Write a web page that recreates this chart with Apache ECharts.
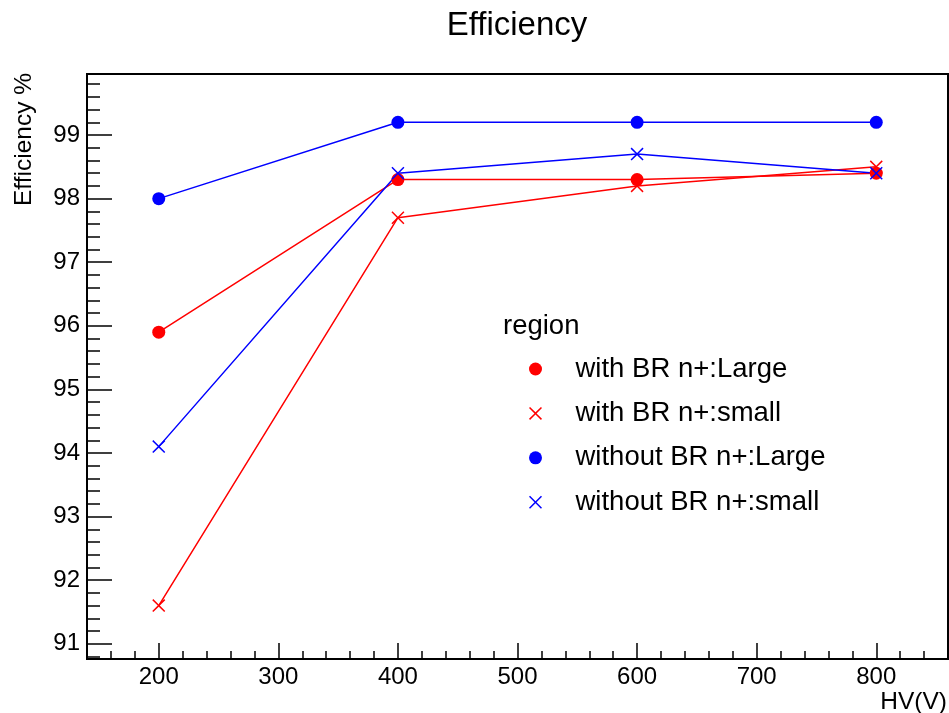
<!DOCTYPE html>
<html>
<head>
<meta charset="utf-8">
<title>Efficiency</title>
<script src="https://cdn.jsdelivr.net/npm/echarts@6.0.0/dist/echarts.min.js"></script>
<style>
  html, body { margin: 0; padding: 0; background: #fff; }
  #main { width: 949px; height: 713px; }
</style>
</head>
<body>
<div id="main"></div>
<script>
// HV points and efficiency (%) per region
const hv = [200, 400, 600, 800];
const withBrLarge = [95.9, 98.3, 98.3, 98.4];
const withBrSmall = [91.6, 97.7, 98.2, 98.5];
const withoutBrLarge = [98.0, 99.2, 99.2, 99.2];
const withoutBrSmall = [94.1, 98.4, 98.7, 98.4];

const xTicks = [200, 300, 400, 500, 600, 700, 800];
const yTicks = [91, 92, 93, 94, 95, 96, 97, 98, 99];

const FONT = '"Liberation Sans", Arial, Helvetica, sans-serif';
const RED = '#ff0000';
const BLUE = '#0000ff';
// thin X made as a filled shape, so it scales with symbolSize
const CROSS = 'path://M0,8 L8,0 L50,42 L92,0 L100,8 L58,50 L100,92 L92,100 L50,58 L8,100 L0,92 L42,50 Z';

// minor ticks: every 20 V on x, every 0.2 % on y
const xMinor = [];
for (let v = 160; v <= 840; v += 20) {
    if (v % 100 !== 0) xMinor.push(v);
}
const yMinor = [];
for (let i = 908; i <= 998; i += 2) {
    if (i % 10 !== 0) yMinor.push(i / 10);
}

const pairs = (ys) => hv.map((x, i) => [x, ys[i]]);

const makeSeries = (name, ys, color, symbol, size) => ({
    name: name,
    type: 'line',
    data: pairs(ys),
    symbol: symbol,
    symbolSize: size,
    showSymbol: true,
    lineStyle: { color: color, width: 1.5 },
    itemStyle: { color: color, borderWidth: 0 },
    emphasis: { disabled: true },
    z: 3
});

const xBase = { type: 'value', min: 140, max: 860, gridIndex: 0, position: 'bottom', splitLine: { show: false } };
const yBase = { type: 'value', min: 90.76, max: 99.96, gridIndex: 0, position: 'left', splitLine: { show: false } };

const chart = echarts.init(document.getElementById('main'), null, { renderer: 'canvas' });
chart.setOption({
    animation: false,
    backgroundColor: '#fff',
    textStyle: { fontFamily: FONT },
    title: {
        text: 'Efficiency',
        left: 517,
        top: 9,
        padding: 0,
        textAlign: 'center',
        textStyle: { fontFamily: FONT, fontSize: 33, fontWeight: 'normal', color: '#000' }
    },
    grid: {
        left: 87, right: 1, top: 74, bottom: 54,
        show: true, borderColor: '#000', borderWidth: 2, backgroundColor: 'transparent'
    },
    xAxis: [
        Object.assign({}, xBase, {
            axisLine: { show: true, lineStyle: { color: '#000', width: 2 } },
            axisTick: { show: true, inside: true, length: 16, customValues: xTicks, lineStyle: { color: '#000', width: 1.5 } },
            axisLabel: { show: true, customValues: xTicks, margin: 6, fontSize: 24, color: '#000', fontFamily: FONT }
        }),
        Object.assign({}, xBase, {
            axisLine: { show: false },
            axisTick: { show: true, inside: true, length: 8, customValues: xMinor, lineStyle: { color: '#000', width: 1.5 } },
            axisLabel: { show: false }
        })
    ],
    yAxis: [
        Object.assign({}, yBase, {
            axisLine: { show: true, lineStyle: { color: '#000', width: 2 } },
            axisTick: { show: true, inside: true, length: 25, customValues: yTicks, lineStyle: { color: '#000', width: 1.5 } },
            axisLabel: { show: true, customValues: yTicks, margin: 7, fontSize: 24, color: '#000', fontFamily: FONT }
        }),
        Object.assign({}, yBase, {
            axisLine: { show: false },
            axisTick: { show: true, inside: true, length: 13, customValues: yMinor, lineStyle: { color: '#000', width: 1.5 } },
            axisLabel: { show: false }
        })
    ],
    legend: {
        orient: 'vertical',
        left: 529,
        top: 355,
        padding: 0,
        itemWidth: 70,
        itemHeight: 13,
        itemGap: 16.4,
        selectedMode: false,
        textStyle: { fontFamily: FONT, fontSize: 27.5, color: '#000' },
        data: [
            { name: 'with BR n+:Large', icon: 'circle' },
            { name: 'with BR n+:small', icon: CROSS },
            { name: 'without BR n+:Large', icon: 'circle' },
            { name: 'without BR n+:small', icon: CROSS }
        ]
    },
    graphic: [
        {
            type: 'text', x: 503, y: 326,
            style: { text: 'region', font: '27.5px ' + FONT, fill: '#000', textAlign: 'left', textVerticalAlign: 'middle' }
        },
        {
            type: 'text', x: 24, y: 73, rotation: Math.PI / 2,
            style: { text: 'Efficiency %', font: '24.5px ' + FONT, fill: '#000', textAlign: 'right', textVerticalAlign: 'middle' }
        },
        {
            type: 'text', x: 947, y: 702,
            style: { text: 'HV(V)', font: '24.5px ' + FONT, fill: '#000', textAlign: 'right', textVerticalAlign: 'middle' }
        }
    ],
    series: [
        makeSeries('with BR n+:Large', withBrLarge, RED, 'circle', 13),
        makeSeries('with BR n+:small', withBrSmall, RED, CROSS, 13),
        makeSeries('without BR n+:Large', withoutBrLarge, BLUE, 'circle', 13),
        makeSeries('without BR n+:small', withoutBrSmall, BLUE, CROSS, 13)
    ]
});
window.addEventListener('resize', () => chart.resize());
</script>
</body>
</html>
